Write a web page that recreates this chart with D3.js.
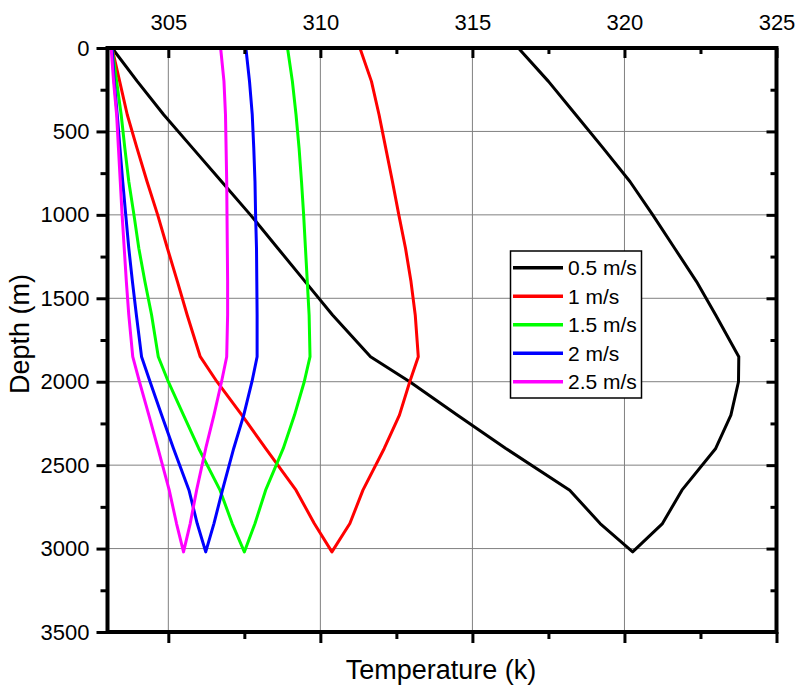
<!DOCTYPE html>
<html>
<head>
<meta charset="utf-8">
<script src="https://cdn.jsdelivr.net/npm/d3@7"></script>
<style>
  html, body { margin: 0; padding: 0; background: #fff; }
  svg { display: block; font-family: Arial, 'Liberation Sans', sans-serif; }
</style>
</head>
<body>
<svg id="chart" width="811" height="691"></svg>
<script>
// depth nodes (m), shared by both legs of every curve
const depths = [0, 200, 400, 600, 800, 1000, 1200, 1400, 1600, 1850, 2000, 2200, 2400, 2650, 2850, 3020];

const seriesNames = ['0.5 m/s', '1 m/s', '1.5 m/s', '2 m/s', '2.5 m/s'];
const seriesColors = ['#000000', '#ff0000', '#00ff00', '#0000ff', '#ff00ff'];

// temperature (K) going down
const down05 = [303.15, 303.98, 304.85, 305.8, 306.75, 307.7, 308.6, 309.5, 310.4, 311.65, 312.94, 314.5, 316.1, 318.2, 319.2, 320.27];
const down10 = [303.15, 303.4, 303.65, 303.97, 304.3, 304.65, 304.97, 305.3, 305.62, 306.05, 306.6, 307.42, 308.2, 309.2, 309.8, 310.38];
const down15 = [303.15, 303.3, 303.45, 303.57, 303.7, 303.87, 304.03, 304.23, 304.45, 304.67, 305.0, 305.5, 306.0, 306.7, 307.1, 307.5];
const down20 = [303.15, 303.22, 303.32, 303.41, 303.5, 303.6, 303.7, 303.82, 303.95, 304.12, 304.4, 304.78, 305.17, 305.68, 305.95, 306.23];
const down25 = [303.12, 303.2, 303.3, 303.36, 303.42, 303.48, 303.55, 303.62, 303.7, 303.83, 304.05, 304.36, 304.66, 305.03, 305.27, 305.5];

// temperature (K) coming back up (listed by depth, top to bottom)
const up05 = [316.51, 317.5, 318.4, 319.3, 320.18, 320.93, 321.65, 322.37, 323.0, 323.76, 323.75, 323.5, 323.0, 321.89, 321.25, 320.27];
const up10 = [311.3, 311.68, 311.93, 312.15, 312.37, 312.58, 312.8, 312.98, 313.12, 313.22, 312.94, 312.6, 312.1, 311.4, 310.97, 310.38];
const up15 = [308.92, 309.08, 309.2, 309.3, 309.38, 309.45, 309.51, 309.57, 309.63, 309.66, 309.47, 309.15, 308.78, 308.2, 307.85, 307.5];
const up20 = [307.55, 307.67, 307.76, 307.81, 307.85, 307.87, 307.9, 307.91, 307.92, 307.92, 307.75, 307.48, 307.15, 306.78, 306.5, 306.23];
const up25 = [306.72, 306.83, 306.88, 306.9, 306.92, 306.93, 306.94, 306.95, 306.95, 306.92, 306.75, 306.5, 306.23, 305.93, 305.72, 305.5];

const downLegs = [down05, down10, down15, down20, down25];
const upLegs = [up05, up10, up15, up20, up25];

const xMajor = [305, 310, 315, 320, 325];
const xMinor = [307.5, 312.5, 317.5, 322.5];
const yMajor = [0, 500, 1000, 1500, 2000, 2500, 3000, 3500];
const yMinor = [250, 750, 1250, 1750, 2250, 2750, 3250];

const svg = d3.select('#chart');
const pLeft = 107.5, pRight = 776.5, pTop = 48, pBottom = 632;

const x = d3.scaleLinear().domain([303, 325]).range([pLeft, pRight]);
const y = d3.scaleLinear().domain([0, 3500]).range([pTop, pBottom]);

// Gridlines
const grid = svg.append('g').attr('stroke', '#808080').attr('stroke-width', 1);
[305, 310, 315, 320].forEach(v => {
    grid.append('line')
        .attr('x1', x(v)).attr('x2', x(v))
        .attr('y1', pTop).attr('y2', pBottom);
});
[500, 1000, 1500, 2000, 2500, 3000].forEach(v => {
    grid.append('line')
        .attr('x1', pLeft).attr('x2', pRight)
        .attr('y1', y(v)).attr('y2', y(v));
});

// Curves: down leg then back up
const line = d3.line().x(d => x(d[0])).y(d => y(d[1]));
seriesNames.forEach((name, i) => {
    const pts = depths.map((d, j) => [downLegs[i][j], d]);
    for (let j = depths.length - 2; j >= 0; j--) pts.push([upLegs[i][j], depths[j]]);
    svg.append('path')
        .datum(pts)
        .attr('d', line)
        .attr('fill', 'none')
        .attr('stroke', seriesColors[i])
        .attr('stroke-width', 3)
        .attr('stroke-linejoin', 'round');
});

// Axes
function styleAxis(g, width) {
    g.select('.domain').remove();
    g.selectAll('.tick line').attr('stroke', '#000').attr('stroke-width', width);
}
svg.append('g').attr('transform', `translate(0,${pTop})`)
    .call(d3.axisTop(x).tickValues(xMajor).tickSize(-10).tickFormat(d3.format('d')))
    .call(g => styleAxis(g, 3))
    .call(g => g.selectAll('text').attr('y', -18).attr('font-size', '22px')
        .attr('font-family', 'Arial, Liberation Sans, sans-serif').attr('fill', '#000'));
svg.append('g').attr('transform', `translate(0,${pTop})`)
    .call(d3.axisTop(x).tickValues(xMinor).tickSize(-6).tickFormat(''))
    .call(g => styleAxis(g, 3));

svg.append('g').attr('transform', `translate(0,${pBottom})`)
    .call(d3.axisBottom(x).tickValues(xMajor).tickSize(11).tickFormat(''))
    .call(g => styleAxis(g, 3));
svg.append('g').attr('transform', `translate(0,${pBottom})`)
    .call(d3.axisBottom(x).tickValues(xMinor).tickSize(7).tickFormat(''))
    .call(g => styleAxis(g, 3));

svg.append('g').attr('transform', `translate(${pLeft},0)`)
    .call(d3.axisLeft(y).tickValues(yMajor).tickSize(11).tickFormat(d3.format('d')))
    .call(g => styleAxis(g, 3))
    .call(g => g.selectAll('text').attr('x', -18).attr('font-size', '22px')
        .attr('font-family', 'Arial, Liberation Sans, sans-serif').attr('fill', '#000'));
svg.append('g').attr('transform', `translate(${pLeft},0)`)
    .call(d3.axisLeft(y).tickValues(yMinor).tickSize(7).tickFormat(''))
    .call(g => styleAxis(g, 3));

svg.append('g').attr('transform', `translate(${pRight},0)`)
    .call(d3.axisRight(y).tickValues(yMajor).tickSize(-10).tickFormat(''))
    .call(g => styleAxis(g, 3));
svg.append('g').attr('transform', `translate(${pRight},0)`)
    .call(d3.axisRight(y).tickValues(yMinor).tickSize(-6).tickFormat(''))
    .call(g => styleAxis(g, 3));

// Frame
svg.append('rect')
    .attr('x', pLeft).attr('y', pTop)
    .attr('width', pRight - pLeft).attr('height', pBottom - pTop)
    .attr('fill', 'none').attr('stroke', '#000').attr('stroke-width', 4);

// Axis titles
svg.append('text')
    .attr('x', (pLeft + pRight) / 2 - 1)
    .attr('y', 679)
    .attr('text-anchor', 'middle')
    .attr('font-size', '27px')
    .text('Temperature (k)');

svg.append('text')
    .attr('transform', `translate(29,${(pTop + pBottom) / 2 - 6}) rotate(-90)`)
    .attr('text-anchor', 'middle')
    .attr('font-size', '27px')
    .text('Depth (m)');

// Legend
const legend = svg.append('g');
legend.append('rect')
    .attr('x', 510.5).attr('y', 251)
    .attr('width', 131).attr('height', 147)
    .attr('fill', '#fff').attr('stroke', '#000').attr('stroke-width', 1.5);
seriesNames.forEach((name, i) => {
    const ly = 267.7 + i * 28.5;
    legend.append('line')
        .attr('x1', 513).attr('x2', 563)
        .attr('y1', ly).attr('y2', ly)
        .attr('stroke', seriesColors[i]).attr('stroke-width', 3.5);
    legend.append('text')
        .attr('x', 568).attr('y', ly)
        .attr('dy', '0.36em')
        .attr('font-size', '21px')
        .text(name);
});
</script>
</body>
</html>
